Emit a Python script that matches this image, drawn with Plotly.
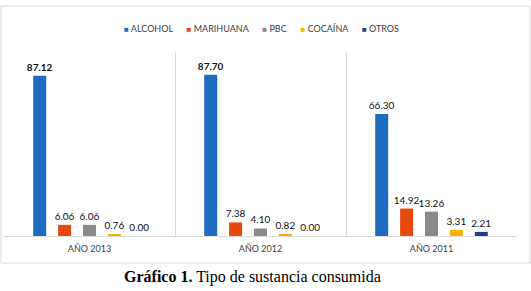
import plotly.graph_objects as go

# ---- data ----
categories = ["AÑO 2013", "AÑO 2012", "AÑO 2011"]
series_names = ["ALCOHOL", "MARIHUANA", "PBC", "COCAÍNA", "OTROS"]
alcohol = [87.12, 87.70, 66.30]
marihuana = [6.06, 7.38, 14.92]
pbc = [6.06, 4.10, 13.26]
cocaina = [0.76, 0.82, 3.31]
otros = [0.00, 0.00, 2.21]
caption_bold = "Gráfico 1."
caption_rest = "Tipo de sustancia consumida"

values = [alcohol, marihuana, pbc, cocaina, otros]
colors = ["#1f6bbf", "#e8490f", "#8a8a8a", "#f5b000", "#1f3d8c"]

W, H = 531, 291
L, R, T, B = 4, 14, 52, 55
pw, ph = W - L - R, H - T - B


def px_x(x):
    return (x - L) / pw


def px_y(y):
    return (H - B - y) / ph


fig = go.Figure()
for si, (name, vals, col) in enumerate(zip(series_names, values, colors)):
    texts = []
    for ci, v in enumerate(vals):
        t = f"{v:.2f}"
        if si == 0 and v > 80:
            t = f"<b>{t}</b>"
        texts.append(t)
    fig.add_trace(go.Bar(
        name=name, x=categories, y=vals, marker_color=col,
        marker_line_width=0,
        text=texts, textposition="outside", cliponaxis=False,
        constraintext="none",
        textfont=dict(family="Lato", size=10, color="#111111"),
    ))

# legend built as a single text line from the series names/colours
parts = []
for name, col in zip(series_names, colors):
    parts.append(f'<span style="color:{col};font-size:8px">■</span>\u00a0{name}')
legend_text = ("\u00a0" * 6).join(parts)

fig.update_layout(
    width=W, height=H,
    margin=dict(l=L, r=R, t=T, b=B, pad=0),
    paper_bgcolor="white", plot_bgcolor="white",
    barmode="group", bargap=0.272, bargroupgap=0.478,
    showlegend=False,
    font=dict(family="Lato", color="#404040"),
    xaxis=dict(
        type="category", tickson="boundaries", showgrid=True,
        gridcolor="#d9d9d9", gridwidth=1, ticks="",
        showline=True, linecolor="#d9d9d9", linewidth=1,
        tickfont=dict(family="Lato", size=9, color="#404040"),
        ticklabelstandoff=4,
        fixedrange=True,
    ),
    yaxis=dict(range=[0, 100], visible=False, fixedrange=True),
    shapes=[dict(
        type="rect", xref="paper", yref="paper",
        x0=px_x(1), x1=px_x(530), y0=px_y(263), y1=px_y(6),
        line=dict(color="#d9d9d9", width=1), layer="below",
    )],
    annotations=[
        dict(text=legend_text, xref="paper", yref="paper",
             x=px_x(261), y=px_y(28), xanchor="center", yanchor="middle",
             showarrow=False, font=dict(family="Lato", size=9, color="#404040")),
        dict(text=f"<b>{caption_bold}</b> {caption_rest}", xref="paper", yref="paper",
             x=px_x(252), y=px_y(277), xanchor="center", yanchor="middle",
             showarrow=False, font=dict(family="Liberation Serif", size=16, color="#000000")),
    ],
)

fig.write_html(
    "out.html",
    config={"displayModeBar": False},
    post_script="document.body.style.margin='0';document.body.style.overflow='hidden';",
)
